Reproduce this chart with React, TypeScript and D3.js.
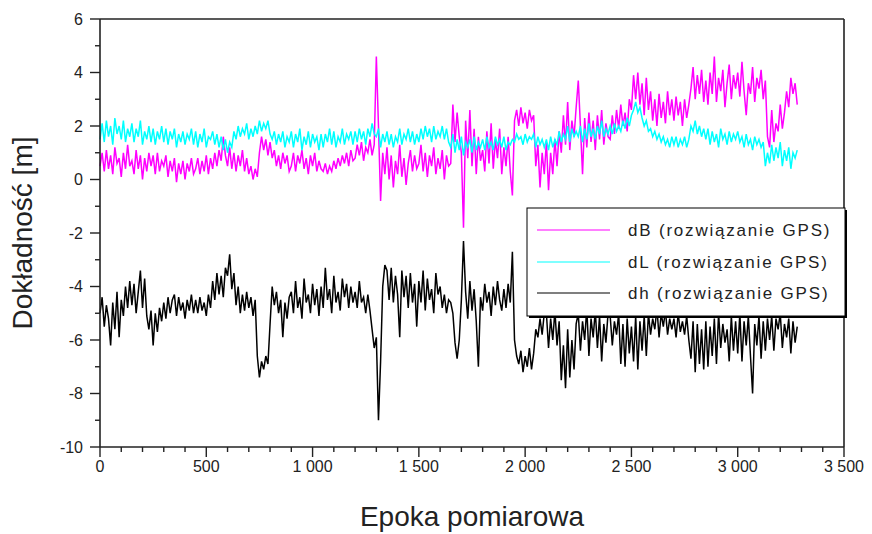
import React from "react";
import * as d3 from "d3";

// Samples are taken every 10 measurement epochs (0 … 3280)
const epochStep = 10;

// dB – latitude error [m]
const dB: number[] = [
  0.5, 1.0, 0.3, 1.1, 0.4, 0.9, 0.2, 1.2, 0.6, 0.8, 0.1, 1.0, 0.4, 1.3, 0.5,
  0.7, 0.2, 1.1, 0.4, 0.9, 0.0, 0.8, 0.3, 1.0, 0.5, 0.9, 0.2, 1.0, 0.3, 0.7,
  0.5, 0.9, 0.1, 0.7, 0.3, 0.8, -0.1, 0.6, 0.2, 0.7, 0.0, 0.6, 0.3, 0.8, 0.2,
  0.4, 0.8, 0.2, 0.7, 0.3, 0.9, 0.2, 0.8, 0.4, 1.0, 0.5, 1.1, 0.7, 1.6, 0.9,
  0.5, 1.2, 0.4, 1.0, 0.3, 0.9, 0.5, 1.1, 0.3, 0.8, 0.2, 0.5, 0.0, 0.4, 0.1,
  1.0, 1.6, 1.1, 1.5, 0.9, 1.4, 0.8, 1.1, 0.5, 0.9, 0.4, 1.0, 0.6, 0.9, 0.3,
  0.5, 1.0, 0.3, 0.9, 0.6, 1.1, 0.4, 0.8, 0.2, 0.9, 0.5, 1.0, 0.3, 0.7, 0.4,
  0.3, 0.6, 0.2, 0.5, 0.3, 0.7, 0.4, 0.8, 0.5, 0.9, 0.6, 1.0, 0.5, 1.1, 0.7,
  0.8, 1.3, 0.9, 1.4, 0.7, 1.2, 1.0, 1.5, 0.9, 1.3, 4.6, 2.0, -0.8, 1.0, 0.2,
  1.2, 0.0, 0.9, -0.3, 0.7, 0.2, 1.3, 0.1, 0.8, -0.2, 0.6, 1.1, 0.3, 0.9, 0.4,
  0.6, 1.3, 0.3, 1.0, 0.1, 0.9, 0.5, 1.2, 0.2, 0.8, 0.4, 1.1, 0.0, 0.9, 0.5,
  0.6, 2.8, 1.4, 2.5, 1.6, 1.0, -1.8, 2.2, 0.8, 2.6, 0.5, 1.9, 0.2, 1.6, 0.7,
  1.1, 0.3, 1.8, 0.6, 2.1, 0.4, 1.5, 0.8, 1.9, 0.2, 1.2, 0.5, 1.6, 0.3, -0.6,
  2.2, 2.6, 2.0, 2.7, 2.1, 2.5, 1.9, 2.6, 2.2, 2.4, 0.5, 1.3, -0.3, 1.0, 0.2,
  1.4, -0.4, 1.0, 0.2, 1.5, 0.5, 1.8, 1.0, 2.4, 1.3, 2.9, 1.1, 2.2, 1.6, 2.7,
  3.7, 2.0, 0.2, 2.3, 1.2, 2.5, 1.4, 2.2, 1.1, 2.4, 1.5, 2.6, 1.3, 2.1, 1.6,
  1.5, 2.4, 1.7, 2.6, 1.9, 2.8, 2.0, 2.5, 1.8, 3.0, 2.6, 3.9, 3.0, 4.0, 2.8,
  3.6, 2.4, 3.8, 2.6, 3.3, 2.2, 3.0, 2.0, 3.2, 2.3, 2.9, 2.1, 3.3, 2.4, 3.0,
  2.2, 3.1, 2.4, 2.9, 2.0, 3.0, 2.3, 2.8, 3.4, 4.2, 3.0, 3.9, 3.2, 4.1, 2.9,
  3.7, 2.8, 4.0, 3.2, 4.6, 2.9, 3.8, 3.3, 4.1, 2.7, 3.6, 4.3, 3.0, 3.9, 3.4,
  4.0, 3.1, 4.4, 3.3, 2.4, 3.6, 3.2, 4.2, 2.9, 3.8, 3.4, 4.1, 3.0, 3.7, 1.6,
  1.2, 2.6, 1.4, 2.1, 1.8, 2.8, 1.9, 2.5, 3.3, 2.7, 3.8, 3.2, 3.6, 2.8,
];

// dL – longitude error [m]
const dL: number[] = [
  1.5, 2.1, 1.4, 2.2, 1.6, 2.0, 1.3, 2.3, 1.7, 2.0, 1.5, 2.2, 1.4, 1.9, 1.6,
  2.1, 1.4, 1.9, 1.6, 2.2, 1.3, 1.8, 1.5, 2.0, 1.4, 1.9, 1.3, 1.8, 1.5, 2.0,
  1.4, 1.9, 1.3, 1.8, 1.5, 1.9, 1.2, 1.7, 1.4, 1.8, 1.3, 1.7, 1.5, 1.9, 1.3,
  1.8, 1.2, 1.7, 1.4, 1.9, 1.2, 1.6, 1.5, 1.8, 1.3, 1.7, 1.2, 1.6, 1.1, 1.5,
  1.0, 1.4, 1.2, 1.8, 1.5, 2.0, 1.6, 1.9, 1.7, 2.1, 1.5, 1.9, 1.6, 2.0, 1.7,
  2.2, 1.8, 2.1, 1.9, 2.2, 1.7, 1.5, 1.8, 1.3, 1.7, 1.4, 1.8, 1.2, 1.6, 1.4,
  1.8, 1.2, 1.7, 1.4, 1.9, 1.1, 1.6, 1.3, 1.8, 1.2, 1.7, 1.4, 1.6, 1.1, 1.7,
  1.2, 1.7, 1.4, 1.9, 1.3, 1.8, 1.2, 1.6, 1.4, 1.9, 1.3, 1.7, 1.5, 1.8, 1.3,
  1.8, 1.4, 1.9, 1.5, 1.8, 1.3, 1.9, 1.6, 2.1, 1.7, 1.6, 1.9, 1.2, 1.7, 1.4,
  1.8, 1.3, 1.7, 1.2, 1.6, 1.4, 1.9, 1.3, 1.7, 1.5, 1.9, 1.4, 1.8, 1.3, 1.7,
  1.4, 1.9, 1.5, 2.0, 1.6, 1.9, 1.4, 2.0, 1.5, 1.8, 1.6, 2.0, 1.5, 1.9, 1.4,
  1.2, 1.7, 1.0, 1.5, 1.1, 1.6, 0.9, 1.4, 1.2, 1.5, 1.0, 1.6, 1.1, 1.4, 1.2,
  1.5, 1.1, 1.6, 1.2, 1.4, 1.1, 1.6, 1.3, 1.5, 1.2, 1.6, 1.1, 1.4, 1.3, 1.5,
  1.4, 1.7, 1.5, 1.6, 1.3, 1.7, 1.4, 1.6, 1.5, 1.7, 1.2, 1.6, 1.3, 1.5, 1.2,
  1.5, 1.1, 1.6, 1.2, 1.5, 1.3, 1.8, 1.4, 1.7, 1.5, 2.0, 1.4, 1.9, 1.6, 1.8,
  1.6, 2.0, 1.4, 1.9, 1.5, 2.1, 1.6, 1.9, 1.5, 2.0, 1.7, 2.2, 1.6, 1.9, 1.7,
  2.0, 1.7, 2.1, 1.8, 2.0, 1.8, 2.2, 1.9, 2.3, 2.0, 2.4, 2.6, 2.9, 2.5, 2.7,
  2.3, 2.0, 2.2, 1.8, 1.9, 1.6, 1.8, 1.5, 1.7, 1.4, 1.6, 1.3, 1.5, 1.2, 1.6,
  1.3, 1.6, 1.2, 1.5, 1.3, 1.6, 1.2, 1.5, 2.0, 1.8, 2.2, 1.7, 2.0, 1.6, 1.9,
  1.5, 1.9, 1.3, 1.8, 1.4, 1.7, 1.2, 1.9, 1.5, 1.7, 1.3, 1.8, 1.4, 1.7, 1.5,
  1.8, 1.4, 1.6, 1.2, 1.7, 1.3, 1.5, 1.1, 1.6, 1.3, 1.5, 1.2, 1.4, 0.5, 1.0,
  0.6, 1.3, 0.7, 1.2, 0.8, 1.4, 0.5, 1.1, 0.7, 1.2, 0.4, 1.0, 0.8, 1.1,
];

// dh – height error [m]
const dh: number[] = [
  -5.0, -4.4, -5.5, -4.7, -5.2, -6.2, -4.6, -5.6, -4.2, -5.9, -4.5, -5.1, -4.0, -4.8, -3.8,
  -4.7, -3.9, -5.0, -4.2, -3.4, -4.8, -3.7, -5.1, -5.6, -4.9, -6.2, -5.0, -5.7, -4.8, -5.3,
  -4.6, -5.2, -4.4, -5.0, -4.5, -4.3, -5.1, -4.4, -4.9, -4.6, -5.2, -4.5, -4.9, -4.3, -5.0,
  -4.5, -5.0, -4.4, -4.9, -4.6, -5.1, -4.3, -4.8, -3.8, -4.5, -3.5, -4.3, -3.6, -4.4, -3.3,
  -3.6, -2.8, -4.1, -3.5, -4.7, -4.0, -5.0, -4.3, -4.9, -4.2, -4.8, -4.4, -5.1, -4.5, -6.6,
  -7.4, -6.8, -7.1, -6.6, -6.9, -5.4, -4.0, -4.7, -4.2, -5.0, -4.5, -5.9, -4.6, -5.2, -4.4,
  -4.2, -5.0, -3.8, -4.8, -4.4, -5.2, -3.7, -4.6, -4.3, -5.0, -3.9, -4.7, -4.1, -5.1, -4.0,
  -4.8, -3.3, -4.5, -4.1, -5.0, -3.6, -4.6, -4.2, -4.9, -3.7, -4.4, -3.9, -4.8, -4.0, -4.6,
  -4.2, -4.8, -3.8, -4.6, -4.4, -5.0, -4.3, -4.9, -5.6, -6.3, -5.9, -9.0, -6.8, -4.0, -3.2,
  -3.4, -4.5, -3.3, -4.6, -3.6, -4.3, -5.9, -3.4, -4.4, -3.6, -4.8, -3.5, -4.6, -3.9, -5.5,
  -3.8, -4.6, -3.4, -4.9, -3.7, -4.5, -4.1, -5.0, -3.5, -4.3, -4.0, -4.8, -4.3, -5.0, -4.5,
  -4.6, -5.0, -6.1, -6.7, -6.0, -4.5, -2.3, -4.2, -5.2, -3.8, -4.9, -4.1, -5.3, -7.0, -4.4,
  -4.9, -3.9, -4.6, -4.2, -5.1, -4.0, -4.7, -3.8, -4.5, -4.9, -4.1, -4.8, -3.9, -4.6, -2.7,
  -6.0, -6.6, -6.9, -6.4, -7.2, -6.6, -7.0, -6.3, -7.1, -6.5, -5.6, -5.9, -5.2, -5.8, -5.0,
  -5.0, -6.3, -5.2, -6.0, -4.9, -6.2, -5.3, -7.5, -6.2, -7.8, -5.6, -7.4, -6.0, -7.1, -5.4,
  -5.0, -6.4, -5.3, -6.0, -4.8, -6.6, -5.2, -5.9, -4.9, -6.3, -5.1, -6.8, -5.4, -6.1, -5.0,
  -5.1, -6.2, -5.3, -5.8, -5.0, -6.9, -5.4, -7.0, -5.2, -6.5, -5.5, -6.8, -5.1, -7.1, -5.3,
  -6.4, -5.1, -6.6, -5.0, -5.8, -5.2, -5.6, -4.8, -5.9, -5.0, -5.5, -4.9, -5.8, -5.2, -5.6,
  -5.2, -5.9, -5.0, -5.7, -5.3, -5.8, -5.1, -6.0, -6.7, -5.3, -7.2, -5.4, -6.9, -5.6, -7.1,
  -5.3, -7.0, -5.5, -6.6, -5.2, -6.9, -5.0, -6.3, -5.4, -6.1, -5.6, -6.8, -5.1, -6.4, -5.3,
  -6.5, -5.0, -6.8, -5.3, -6.2, -5.1, -6.6, -8.0, -5.4, -6.2, -5.1, -6.7, -5.3, -6.4, -5.2,
  -6.0, -5.1, -6.4, -5.2, -5.6, -5.0, -6.3, -5.4, -5.9, -5.2, -6.5, -5.3, -6.1, -5.5,
];

const seriesLabels = ["dB (rozwiązanie GPS)", "dL (rozwiązanie GPS)", "dh (rozwiązanie GPS)"];
const seriesColors = ["#ff00ff", "#00ffff", "#000000"];

const xTickValues = [0, 500, 1000, 1500, 2000, 2500, 3000, 3500];
const xTickLabels = ["0", "500", "1 000", "1 500", "2 000", "2 500", "3 000", "3 500"];
const yTickValues = [6, 4, 2, 0, -2, -4, -6, -8, -10];

const xTitle = "Epoka pomiarowa";
const yTitle = "Dokładność [m]";

export default function App() {
  const W = 872;
  const H = 534;
  const left = 100;
  const right = 844;
  const top = 19;
  const bottom = 447;

  const x = d3.scaleLinear().domain([0, 3500]).range([left, right]);
  const y = d3.scaleLinear().domain([-10, 6]).range([bottom, top]);

  const line = d3
    .line<number>()
    .x((_, i) => x(i * epochStep))
    .y((d) => y(d));

  const series = [dB, dL, dh];

  const xMinor = d3.range(0, 3501, 100).filter((v) => v % 500 !== 0);
  const yMinor = d3.range(-10, 7, 1).filter((v) => v % 2 !== 0);

  const axisColor = "#222";
  const font = "'Liberation Sans', Arial, sans-serif";

  // legend geometry
  const lgX = 527;
  const lgY = 208;
  const lgW = 318;
  const lgH = 108;
  const rowY = [230, 262, 293];

  return (
    <svg
      width={W}
      height={H}
      viewBox={`0 0 ${W} ${H}`}
      style={{ position: "absolute", left: 0, top: 0, background: "#fff" }}
      fontFamily={font}
    >
      <rect x={0} y={0} width={W} height={H} fill="#fff" />

      {/* data lines */}
      <g fill="none" strokeWidth={1.5}>
        {series.map((s, k) => (
          <path key={k} d={line(s) ?? ""} stroke={seriesColors[k]} strokeLinejoin="miter" />
        ))}
      </g>

      {/* frame */}
      <g stroke={axisColor} strokeWidth={1.6} fill="none">
        <line x1={left} y1={top} x2={right} y2={top} />
        <line x1={right} y1={top} x2={right} y2={bottom} />
        <line x1={left} y1={top} x2={left} y2={bottom} />
        <line x1={left} y1={bottom} x2={right} y2={bottom} />
      </g>

      {/* y axis ticks */}
      <g stroke={axisColor} strokeWidth={1.4}>
        {yTickValues.map((v) => (
          <line key={`ym${v}`} x1={left - 10} x2={left} y1={y(v)} y2={y(v)} />
        ))}
        {yMinor.map((v) => (
          <line key={`yn${v}`} x1={left - 5} x2={left} y1={y(v)} y2={y(v)} />
        ))}
      </g>
      <g fill="#222" fontSize={16} textAnchor="end">
        {yTickValues.map((v) => (
          <text key={`yl${v}`} x={83} y={y(v)} dy="0.36em">
            {v}
          </text>
        ))}
      </g>

      {/* x axis ticks */}
      <g stroke={axisColor} strokeWidth={1.4}>
        {xTickValues.map((v) => (
          <line key={`xm${v}`} x1={x(v)} x2={x(v)} y1={bottom} y2={bottom + 10} />
        ))}
        {xMinor.map((v) => (
          <line key={`xn${v}`} x1={x(v)} x2={x(v)} y1={bottom} y2={bottom + 5} />
        ))}
      </g>
      <g fill="#222" fontSize={16} textAnchor="middle">
        {xTickValues.map((v, i) => (
          <text key={`xl${v}`} x={x(v)} y={472}>
            {xTickLabels[i]}
          </text>
        ))}
      </g>

      {/* axis titles */}
      <text x={(left + right) / 2} y={526} fontSize={28} textAnchor="middle" fill="#222">
        {xTitle}
      </text>
      <text
        transform={`translate(32, ${(top + bottom) / 2}) rotate(-90)`}
        fontSize={28}
        textAnchor="middle"
        fill="#222"
      >
        {yTitle}
      </text>

      {/* legend */}
      <g>
        <rect x={lgX + 2} y={lgY + 2} width={lgW} height={lgH} fill="#000" />
        <rect x={lgX} y={lgY} width={lgW} height={lgH} fill="#fff" stroke="#000" strokeWidth={1} />
        {seriesLabels.map((label, k) => (
          <g key={label}>
            <line x1={537} x2={610} y1={rowY[k]} y2={rowY[k]} stroke={seriesColors[k]} strokeWidth={1.2} />
            <text x={628} y={rowY[k]} dy="0.36em" fontSize={17} letterSpacing={1.8} fill="#222">
              {label}
            </text>
          </g>
        ))}
      </g>
    </svg>
  );
}
